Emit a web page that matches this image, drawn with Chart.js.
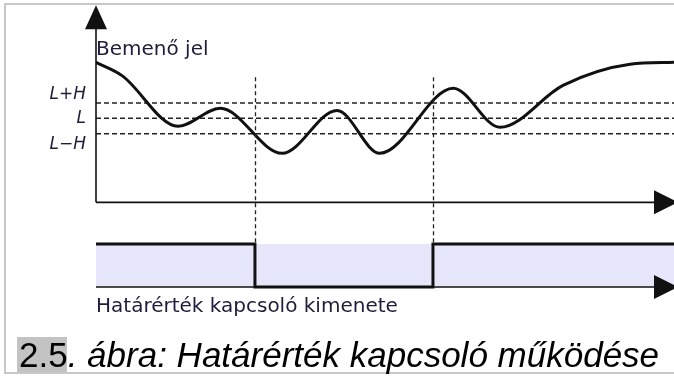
<!DOCTYPE html>
<html>
<head>
<meta charset="utf-8">
<script src="https://cdn.jsdelivr.net/npm/chart.js@4.4.1/dist/chart.umd.min.js"></script>
<style>
  html, body { margin: 0; padding: 0; background: #fff; }
  canvas { display: block; }
</style>
</head>
<body>
<canvas id="thresholdChart" width="674" height="378"></canvas>
<script>
// input signal (time, value): turning points plus the start and final rise
const signalTimes = [0, 4.5, 14.2, 21.5, 32.2, 41.7, 49.1, 61.8, 69.9, 80.8, 92.4, 100];
const signalValues = [9.17, 8.3, 4.98, 6.16, 3.21, 6.02, 3.21, 7.47, 4.91, 7.66, 9.04, 9.17];

// thresholds
const thresholdLabels = ["L+H", "L", "L\u2212H"];
const thresholdValues = [6.5, 5.5, 4.5];

// switch output (1 = high, 0 = low)
const outputTimes = [0, 27.5, 58.3, 100];
const outputLevels = [1, 0, 1, 1];
const switchTimes = [27.5, 58.3];

const timeMax = 100;
const signalAxisTop = 12.9;
const markerTop = 8.2;

const ink = "#111";
const textColor = "#1e1e3c";

const thresholdSets = thresholdValues.map((v, i) => ({
  label: thresholdLabels[i],
  data: [{ x: 0, y: v }, { x: timeMax, y: v }],
  yAxisID: "y",
  borderColor: "#222",
  borderWidth: 1.5,
  borderDash: [5, 3],
  pointRadius: 0,
  fill: false,
}));

const diagram = {
  id: "diagram",
  beforeDraw(chart) {
    const ctx = chart.ctx;
    ctx.save();
    ctx.strokeStyle = "#c8c8c8";
    ctx.lineWidth = 2;
    ctx.beginPath();
    ctx.moveTo(674, 4);
    ctx.lineTo(5, 4);
    ctx.lineTo(5, 373);
    ctx.lineTo(674, 373);
    ctx.stroke();
    ctx.restore();
  },
  afterDatasetsDraw(chart) {
    const ctx = chart.ctx;
    const { x, y, y2 } = chart.scales;
    const x0 = x.getPixelForValue(0);
    const xEnd = x.getPixelForValue(timeMax) + 4;

    ctx.save();
    // vertical switch markers
    ctx.strokeStyle = "#222";
    ctx.lineWidth = 1.3;
    ctx.setLineDash([4, 3]);
    switchTimes.forEach(t => {
      const px = Math.round(x.getPixelForValue(t)) + 0.5;
      ctx.beginPath();
      ctx.moveTo(px, y.getPixelForValue(markerTop));
      ctx.lineTo(px, y2.getPixelForValue(1));
      ctx.stroke();
    });
    ctx.setLineDash([]);

    // axes with arrows
    ctx.strokeStyle = ink;
    ctx.fillStyle = ink;
    ctx.lineWidth = 1.6;
    const yTop = y.getPixelForValue(signalAxisTop);
    const y0 = y.getPixelForValue(0);
    ctx.beginPath();
    ctx.moveTo(x0, y0);
    ctx.lineTo(x0, yTop + 20);
    ctx.stroke();
    ctx.beginPath();
    ctx.moveTo(x0, yTop);
    ctx.lineTo(x0 - 11, yTop + 24);
    ctx.lineTo(x0 + 11, yTop + 24);
    ctx.closePath();
    ctx.fill();

    [y0, y2.getPixelForValue(0)].forEach(py => {
      ctx.beginPath();
      ctx.moveTo(x0, py);
      ctx.lineTo(xEnd - 20, py);
      ctx.stroke();
      ctx.beginPath();
      ctx.moveTo(xEnd, py);
      ctx.lineTo(xEnd - 24, py - 12);
      ctx.lineTo(xEnd - 24, py + 12);
      ctx.closePath();
      ctx.fill();
    });

    // threshold labels
    ctx.fillStyle = textColor;
    ctx.font = "oblique 17px 'DejaVu Sans'";
    ctx.textAlign = "right";
    ctx.textBaseline = "middle";
    const shift = [-9, 0, 11];
    thresholdLabels.forEach((lab, i) => {
      ctx.fillText(lab, x0 - 10, y.getPixelForValue(thresholdValues[i]) + shift[i]);
    });

    // titles
    ctx.textAlign = "left";
    ctx.textBaseline = "alphabetic";
    ctx.font = "20px 'DejaVu Sans'";
    ctx.fillText("Bemenő jel", x0, 55);
    ctx.fillText("Határérték kapcsoló kimenete", x0, 312);

    // caption
    ctx.fillStyle = "#c3c3c3";
    ctx.fillRect(17, 337, 50, 35);
    ctx.fillStyle = "#000";
    ctx.font = "35px 'Liberation Sans'";
    ctx.fillText("2.5", 19, 367);
    const w = ctx.measureText("2.5").width;
    ctx.font = "italic 35px 'Liberation Sans'";
    ctx.fillText(". ábra: Határérték kapcsoló működése", 19 + w, 367);
    ctx.restore();
  }
};

new Chart(document.getElementById("thresholdChart").getContext("2d"), {
  type: "line",
  data: {
    datasets: [
      {
        label: "Bemenő jel",
        data: signalTimes.map((t, i) => ({ x: t, y: signalValues[i] })),
        yAxisID: "y",
        borderColor: ink,
        borderWidth: 3,
        cubicInterpolationMode: "monotone",
        pointRadius: 0,
        fill: false,
      },
      ...thresholdSets,
      {
        label: "Határérték kapcsoló kimenete",
        data: outputTimes.map((t, i) => ({ x: t, y: outputLevels[i] })),
        yAxisID: "y2",
        stepped: true,
        borderColor: ink,
        borderWidth: 3,
        pointRadius: 0,
        fill: false,
      },
      {
        label: "band",
        data: [{ x: 0, y: 1 }, { x: timeMax, y: 1 }],
        yAxisID: "y2",
        borderWidth: 0,
        borderColor: "rgba(0,0,0,0)",
        backgroundColor: "#e6e6fa",
        pointRadius: 0,
        fill: { value: 0 },
      },
    ],
  },
  options: {
    responsive: false,
    animation: false,
    layout: { padding: { left: 96, right: 0, top: 0, bottom: 0 } },
    plugins: {
      legend: { display: false },
      tooltip: { enabled: false },
    },
    scales: {
      x: { type: "linear", min: 0, max: timeMax, display: false },
      y: { type: "linear", min: -11.5, max: 13.25, display: false },
      y2: { type: "linear", min: -2.116, max: 6.674, display: false },
    },
  },
  plugins: [diagram],
});
</script>
</body>
</html>
